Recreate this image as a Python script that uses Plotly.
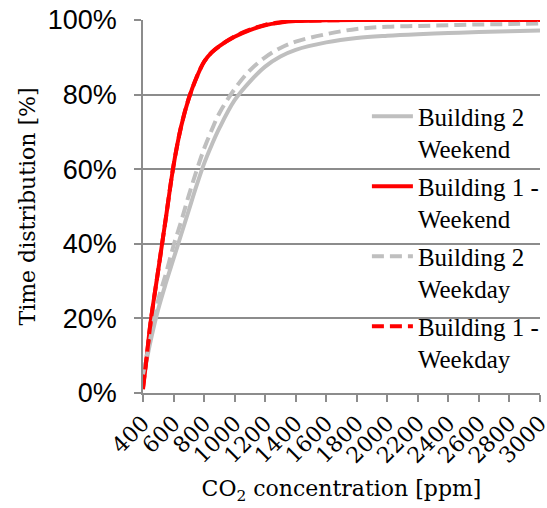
import plotly.graph_objects as go

# CO2 concentration [ppm]
ppm = [400, 425, 450, 500, 550, 600, 650, 700, 750, 800, 850, 900, 1000, 1100,
       1200, 1300, 1400, 1600, 1800, 2000, 2200, 2400, 2600, 2800, 3000]

# cumulative time distribution [%]
b2_weekend = [3, 9, 14, 22.5, 29.5, 36, 42.5, 49, 55.5, 61.5, 66.5, 71, 78.5, 83.5,
              87.5, 90.2, 92, 94, 95.2, 95.8, 96.2, 96.5, 96.8, 97, 97.2]
b1_weekend = [1, 10, 19, 33, 47, 61, 71.5, 79, 84.5, 88.8, 91.3, 93, 95.5, 97.3,
              98.6, 99.3, 99.7, 99.9, 100, 100, 100, 100, 100, 100, 100]
b2_weekday = [5, 10, 15, 25, 32, 39.5, 46, 53, 59.5, 65.5, 70.5, 75, 81.5, 86.5,
              90, 92.5, 94.2, 96.2, 97.6, 98.2, 98.4, 98.6, 98.8, 98.9, 99.1]
b1_weekday = [1.5, 10, 19, 33, 47, 61, 71.5, 79, 84.5, 88.8, 91.3, 93, 95.6, 97.4,
              98.7, 99.4, 99.8, 99.9, 100, 100, 100, 100, 100, 100, 100]

names = ["Building 2<br>Weekend", "Building 1 -<br>Weekend",
         "Building 2<br>Weekday", "Building 1 -<br>Weekday"]
y_ticks = [0, 20, 40, 60, 80, 100]
x_ticks = list(range(400, 3001, 200))

GRAY = "#BFBFBF"
RED = "#FF0000"
AXIS = "#8C8C8C"
SERIF = "DejaVu Serif"
SANS = "Liberation Sans"

fig = go.Figure()
series = [
    (b2_weekend, GRAY, "solid"),
    (b1_weekend, RED, "solid"),
    (b2_weekday, GRAY, "12px,6px"),
    (b1_weekday, RED, "12px,6px"),
]
for i, ((vals, color, dash), name) in enumerate(zip(series, names)):
    fig.add_trace(go.Scatter(
        x=ppm, y=vals, name=name, mode="lines", line_shape="spline",
        legendgroup=f"g{i}",
        line=dict(color=color, width=4, dash=dash),
    ))

fig.update_layout(
    width=547, height=508,
    margin=dict(l=143, r=7, t=20, b=115, autoexpand=False),
    plot_bgcolor="white", paper_bgcolor="white",
    showlegend=True,
    legend=dict(
        x=0.564, y=0.803, xanchor="left", yanchor="top",
        bgcolor="rgba(0,0,0,0)", valign="top", itemwidth=41,
        tracegroupgap=2,
        font=dict(family="Liberation Serif", size=25, color="black"),
    ),
    xaxis=dict(
        range=[400, 3000], tickvals=x_ticks, tickangle=-45, automargin=False,
        ticklabeloverflow="allow",
        showgrid=False, showline=True, linecolor=AXIS, linewidth=1.5,
        ticks="outside", ticklen=7, tickcolor=AXIS, tickwidth=1.5,
        tickfont=dict(family=SERIF, size=22, color="black"),
        title=dict(text="CO<sub>2</sub> concentration [ppm]",
                   font=dict(family=SERIF, size=22, color="black"), standoff=14),
    ),
    yaxis=dict(
        range=[0, 100], tickvals=y_ticks, ticktext=[f"{v}%" for v in y_ticks],
        automargin=False, ticklabelstandoff=12,
        showgrid=True, gridcolor=AXIS, gridwidth=1.5,
        showline=True, linecolor=AXIS, linewidth=1.5,
        ticks="outside", ticklen=7, tickcolor=AXIS, tickwidth=1.5,
        tickfont=dict(family=SANS, size=27, color="black"),
        title=dict(text="Time distribution [%]",
                   font=dict(family=SERIF, size=22, color="black"), standoff=6),
        zeroline=False,
    ),
)

# the page's default body margin would push the chart 8px off its place
fig.write_html(
    "out.html",
    config={"displayModeBar": False, "responsive": False},
    post_script="document.body.style.margin='0';document.body.style.overflow='hidden';",
)
